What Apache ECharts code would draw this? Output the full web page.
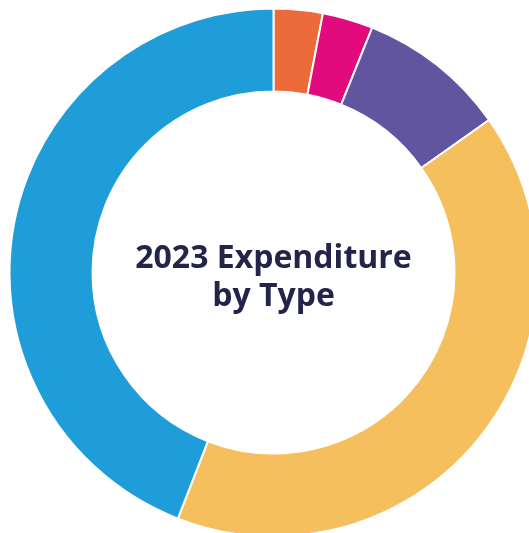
<!DOCTYPE html>
<html>
<head>
<meta charset="utf-8">
<script src="https://cdn.jsdelivr.net/npm/echarts@6/dist/echarts.min.js"></script>
<style>html,body{margin:0;padding:0;background:#fff;}#c{width:529px;height:533px;}</style>
</head>
<body>
<div id="c"></div>
<script>
const categories = ['Category A', 'Category B', 'Category C', 'Category D', 'Category E'];
const values = [3.0, 3.1, 9.1, 40.7, 44.1];
const colors = ['#EC6B3A', '#E20B7E', '#61559F', '#F5BF5D', '#1E9DD8'];
const titleLines = ['2023 Expenditure', 'by Type'];
const titleY = [259, 297];

const chart = echarts.init(document.getElementById('c'));
chart.setOption({
  animation: false,
  graphic: titleLines.map((t, i) => ({
    type: 'text',
    x: 273.5,
    y: titleY[i],
    style: {
      text: t,
      align: 'center',
      verticalAlign: 'middle',
      font: 'bold 32px "Open Sans"',
      fill: '#22244A'
    }
  })),
  series: [{
    type: 'pie',
    center: [273.5, 272.5],
    radius: [181, 264],
    startAngle: 90,
    clockwise: true,
    label: { show: false },
    labelLine: { show: false },
    itemStyle: { borderColor: '#fff', borderWidth: 2 },
    data: categories.map((n, i) => ({ name: n, value: values[i], itemStyle: { color: colors[i] } }))
  }]
});
</script>
</body>
</html>
